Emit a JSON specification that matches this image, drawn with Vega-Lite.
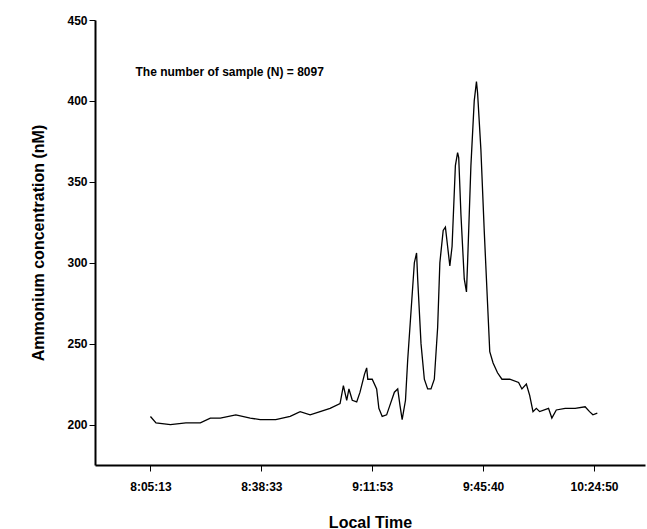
{
"$schema":"https://vega.github.io/schema/vega-lite/v6.json",
"autosize":"none","width":550,"height":445,
"padding":{"left":95,"top":20,"right":2,"bottom":64},
"background":"white",
"config":{"view":{"stroke":null},"font":"Liberation Sans"},
"layer":[
{"data":{"values":[
{"t":0,"c":205},{"t":0.05,"c":201},{"t":0.18,"c":200},{"t":0.32,"c":201},{"t":0.45,"c":201},{"t":0.54,"c":204},{"t":0.63,"c":204},{"t":0.77,"c":206},{"t":0.9,"c":204},{"t":0.99,"c":203},{"t":1.13,"c":203},{"t":1.26,"c":205},{"t":1.35,"c":208},{"t":1.44,"c":206},{"t":1.53,"c":208},{"t":1.62,"c":210},{"t":1.71,"c":213},{"t":1.74,"c":224},{"t":1.77,"c":215},{"t":1.79,"c":222},{"t":1.82,"c":215},{"t":1.86,"c":214},{"t":1.89,"c":220},{"t":1.93,"c":231},{"t":1.95,"c":235},{"t":1.96,"c":228},{"t":2.0,"c":228},{"t":2.04,"c":222},{"t":2.06,"c":210},{"t":2.09,"c":205},{"t":2.13,"c":206},{"t":2.16,"c":212},{"t":2.2,"c":220},{"t":2.23,"c":222},{"t":2.25,"c":212},{"t":2.27,"c":203},{"t":2.3,"c":215},{"t":2.32,"c":240},{"t":2.35,"c":270},{"t":2.38,"c":300},{"t":2.4,"c":306},{"t":2.41,"c":290},{"t":2.44,"c":250},{"t":2.47,"c":228},{"t":2.5,"c":222},{"t":2.53,"c":222},{"t":2.56,"c":228},{"t":2.59,"c":260},{"t":2.61,"c":300},{"t":2.64,"c":320},{"t":2.66,"c":322},{"t":2.68,"c":310},{"t":2.7,"c":298},{"t":2.72,"c":310},{"t":2.75,"c":360},{"t":2.77,"c":368},{"t":2.78,"c":365},{"t":2.8,"c":330},{"t":2.83,"c":290},{"t":2.85,"c":282},{"t":2.86,"c":300},{"t":2.89,"c":360},{"t":2.92,"c":400},{"t":2.94,"c":412},{"t":2.95,"c":405},{"t":2.98,"c":370},{"t":3.01,"c":320},{"t":3.04,"c":275},{"t":3.06,"c":245},{"t":3.09,"c":238},{"t":3.13,"c":232},{"t":3.17,"c":228},{"t":3.24,"c":228},{"t":3.32,"c":226},{"t":3.35,"c":222},{"t":3.39,"c":225},{"t":3.42,"c":218},{"t":3.45,"c":208},{"t":3.48,"c":210},{"t":3.51,"c":208},{"t":3.59,"c":210},{"t":3.62,"c":204},{"t":3.66,"c":209},{"t":3.74,"c":210},{"t":3.83,"c":210},{"t":3.92,"c":211},{"t":3.96,"c":208},{"t":3.99,"c":206},{"t":4.03,"c":207}
]},
"mark":{"type":"line","color":"black","strokeWidth":1.3},
"encoding":{
"x":{"field":"t","type":"quantitative","scale":{"domain":[-0.5,4.46],"nice":false,"zero":false},
"axis":{"values":[0,1,2,3,4],"labelExpr":"['8:05:13','8:38:33','9:11:53','9:45:40','10:24:50'][datum.value]","title":"Local Time","grid":false,"domainColor":"black","tickColor":"black","tickSize":6,"domainWidth":2,"labelFontWeight":"bold","labelFontSize":12,"labelColor":"black","titleFontSize":16,"titleFontWeight":"bold","titleColor":"black","labelPadding":10,"titlePadding":22}},
"y":{"field":"c","type":"quantitative","scale":{"domain":[175,450],"nice":false,"zero":false},
"axis":{"values":[200,250,300,350,400,450],"title":"Ammonium concentration (nM)","grid":false,"domainColor":"black","tickColor":"black","tickSize":6,"domainWidth":2,"labelFontWeight":"bold","labelFontSize":12,"labelColor":"black","titleFontSize":16,"titleFontWeight":"bold","titleColor":"black","titlePadding":20}}
}},
{"data":{"values":[{"t":-0.135,"c":418,"label":"The number of sample (N) = 8097"}]},
"mark":{"type":"text","align":"left","baseline":"middle","fontWeight":"bold","fontSize":12,"color":"black"},
"encoding":{"x":{"field":"t","type":"quantitative"},"y":{"field":"c","type":"quantitative"},"text":{"field":"label"}}}
]
}
